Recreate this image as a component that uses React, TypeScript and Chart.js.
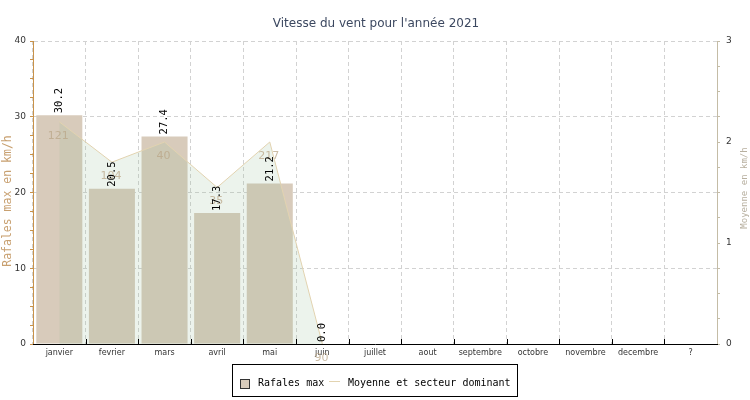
import React, { useEffect, useRef } from 'react';
import { Chart, registerables } from 'chart.js';

Chart.register(...registerables);

const TITLE = "Vitesse du vent pour l'année 2021";
const months = ['janvier', 'fevrier', 'mars', 'avril', 'mai', 'juin', 'juillet', 'aout', 'septembre', 'octobre', 'novembre', 'decembre', '?'];
const rafalesMax: (number | null)[] = [30.2, 20.5, 27.4, 17.3, 21.2, 0.0, null, null, null, null, null, null, null];
const moyenne: (number | null)[] = [2.2, 1.8, 2.0, 1.55, 2.0, 0, null, null, null, null, null, null, null];
const secteurDominant: (string | null)[] = ['121', '104', '40', '35', '217', '90', null, null, null, null, null, null, null];
const leftAxisTitle = 'Rafales max en km/h';
const rightAxisTitle = 'Moyenne en km/h';
const legendLabels = ['Rafales max', 'Moyenne et secteur dominant'];

const BAR_COLOR = '#d8cbbb';
const AREA_COLOR = 'rgba(150,190,150,0.18)';
const LINE_COLOR = '#e2d3b0';
const LEFT_AXIS_COLOR = '#c8924a';
const RIGHT_AXIS_COLOR = '#c4bca6';
const GRID_COLOR = '#d2d2d2';

const overlayPlugin = {
  id: 'overlay',
  afterDatasetsDraw(chart: any) {
    const ctx = chart.ctx as CanvasRenderingContext2D;
    const barMeta = chart.getDatasetMeta(0);
    const lineMeta = chart.getDatasetMeta(1);
    ctx.save();
    ctx.font = '11px "DejaVu Sans"';
    ctx.fillStyle = 'rgba(185,165,135,0.75)';
    ctx.textAlign = 'center';
    ctx.textBaseline = 'middle';
    lineMeta.data.forEach((pt: any, i: number) => {
      if (moyenne[i] == null || secteurDominant[i] == null) return;
      ctx.fillText(secteurDominant[i] as string, pt.x - 1, pt.y + 14);
    });
    ctx.font = '10.5px "DejaVu Sans Mono"';
    ctx.fillStyle = '#000';
    barMeta.data.forEach((bar: any, i: number) => {
      const v = rafalesMax[i];
      if (v == null) return;
      ctx.save();
      ctx.translate(bar.x, bar.y - 2);
      ctx.rotate(-Math.PI / 2);
      ctx.textAlign = 'left';
      ctx.textBaseline = 'middle';
      ctx.fillText(v.toFixed(1), 0, 0);
      ctx.restore();
    });
    ctx.restore();
  },
  afterDraw(chart: any) {
    const ctx = chart.ctx as CanvasRenderingContext2D;
    const area = chart.chartArea;
    ctx.save();
    // inner tick marks on x axis
    const n = months.length;
    const cw = (area.right - area.left) / n;
    ctx.strokeStyle = '#000';
    ctx.lineWidth = 1;
    ctx.beginPath();
    for (let k = 1; k < n; k++) {
      const x = Math.round(area.left + k * cw) + 0.5;
      ctx.moveTo(x, area.bottom);
      ctx.lineTo(x, area.bottom - 5);
    }
    ctx.stroke();
    // title
    ctx.fillStyle = '#3c4860';
    ctx.font = '12px "DejaVu Sans"';
    ctx.textAlign = 'center';
    ctx.textBaseline = 'middle';
    ctx.fillText(TITLE, 376, 24);
    // axis titles
    ctx.save();
    ctx.translate(8, 201);
    ctx.rotate(-Math.PI / 2);
    ctx.fillStyle = '#c8a070';
    ctx.font = '11.5px "DejaVu Sans Mono"';
    ctx.fillText(leftAxisTitle, 0, 0);
    ctx.restore();
    ctx.save();
    ctx.translate(745, 188);
    ctx.rotate(-Math.PI / 2);
    ctx.fillStyle = '#b8b0a0';
    ctx.font = '9px "DejaVu Sans Mono"';
    ctx.fillText(rightAxisTitle, 0, 0);
    ctx.restore();
    // legend
    const lx = 232.5, ly = 364.5, lw = 285, lh = 32;
    ctx.fillStyle = '#fff';
    ctx.fillRect(lx, ly, lw, lh);
    ctx.strokeStyle = '#000';
    ctx.strokeRect(lx, ly, lw, lh);
    ctx.fillStyle = BAR_COLOR;
    ctx.fillRect(240, 379, 10, 10);
    ctx.strokeStyle = '#333';
    ctx.strokeRect(240.5, 379.5, 9, 9);
    ctx.strokeStyle = LINE_COLOR;
    ctx.beginPath();
    ctx.moveTo(329, 381.5);
    ctx.lineTo(340, 381.5);
    ctx.stroke();
    ctx.fillStyle = '#000';
    ctx.font = '10px "DejaVu Sans Mono"';
    ctx.textAlign = 'left';
    ctx.textBaseline = 'middle';
    ctx.fillText(legendLabels[0], 258, 383);
    ctx.fillText(legendLabels[1], 348, 383);
    ctx.restore();
  },
};

export default function App() {
  const ref = useRef<HTMLCanvasElement | null>(null);
  useEffect(() => {
    document.body.style.margin = '0';
    if (!ref.current) return;
    Chart.defaults.font.family = '"DejaVu Sans"';
    const chart = new Chart(ref.current, {
      type: 'bar',
      data: {
        labels: months,
        datasets: [
          {
            type: 'bar',
            label: legendLabels[0],
            data: rafalesMax as any,
            backgroundColor: BAR_COLOR,
            borderWidth: 0,
            yAxisID: 'y',
            categoryPercentage: 0.875,
            barPercentage: 1,
            order: 1,
          },
          {
            type: 'line',
            label: legendLabels[1],
            data: moyenne as any,
            borderColor: LINE_COLOR,
            borderWidth: 1,
            backgroundColor: AREA_COLOR,
            fill: 'origin',
            pointRadius: 0,
            tension: 0,
            spanGaps: false,
            yAxisID: 'y1',
            order: 0,
          },
        ],
      },
      options: {
        responsive: false,
        animation: false,
        layout: { padding: { top: 41, left: 0, right: 0, bottom: 0 } },
        plugins: {
          legend: { display: false },
          title: { display: false },
          tooltip: { enabled: false },
        },
        scales: {
          x: {
            offset: true,
            grid: {
              offset: true,
              color: GRID_COLOR,
              drawTicks: false,
            },
            border: { color: '#000', width: 1, dash: [4, 3], z: 1 },
            ticks: {
              color: '#333',
              font: { size: 8 },
              padding: 4,
              maxRotation: 0,
              autoSkip: false,
            },
            afterFit: (s: any) => { s.height = 56; },
          },
          y: {
            position: 'left',
            min: 0,
            max: 40,
            ticks: {
              stepSize: 2.5,
              color: '#333',
              font: { size: 9 },
              padding: 4,
              callback: (v: any) => (Number(v) % 10 === 0 ? String(v) : ''),
            },
            grid: {
              color: (c: any) => (c.tick && c.tick.value % 10 === 0 && c.tick.value !== 0 ? GRID_COLOR : 'rgba(0,0,0,0)'),
              tickColor: LEFT_AXIS_COLOR,
              tickLength: 3,
            },
            border: { color: LEFT_AXIS_COLOR, width: 1, dash: [4, 3] },
            afterFit: (s: any) => { s.width = 33; },
          },
          y1: {
            position: 'right',
            min: 0,
            max: 3,
            ticks: {
              stepSize: 0.25,
              color: '#333',
              font: { size: 9 },
              padding: 6,
              callback: (v: any) => (Number(v) % 1 === 0 ? String(v) : ''),
            },
            grid: {
              drawOnChartArea: false,
              tickColor: RIGHT_AXIS_COLOR,
              tickLength: 3,
            },
            border: { color: RIGHT_AXIS_COLOR, width: 1 },
            afterFit: (s: any) => { s.width = 33; },
          },
        },
      },
      plugins: [overlayPlugin],
    } as any);
    return () => chart.destroy();
  }, []);
  return (
    <div style={{ width: 750, height: 400 }}>
      <canvas ref={ref} width={750} height={400} />
    </div>
  );
}
